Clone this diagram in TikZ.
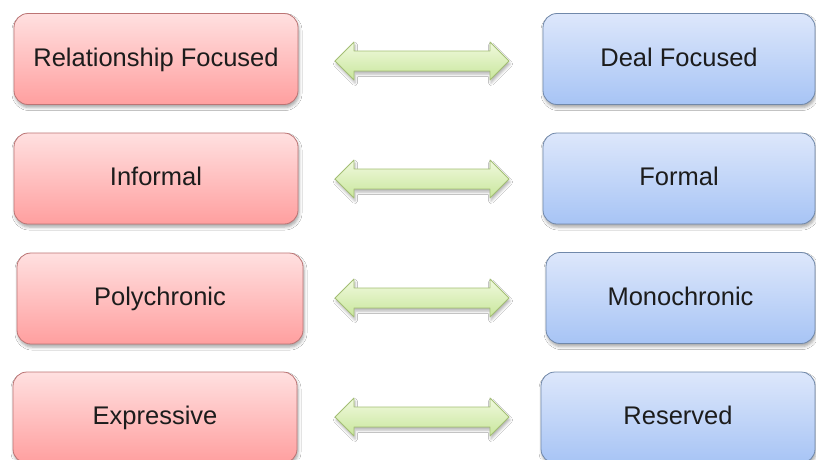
\documentclass[tikz,border=0pt]{standalone}
\usepackage{fontspec}
\setmainfont{Liberation Sans}
\usetikzlibrary{calc,shadows.blur}

\definecolor{redtop}{HTML}{FFE0E0}
\definecolor{redbot}{HTML}{FF9F9F}
\definecolor{redline}{HTML}{BC7474}
\definecolor{bluetop}{HTML}{DDE7FB}
\definecolor{bluebot}{HTML}{A7C4F5}
\definecolor{blueline}{HTML}{7088AA}
\definecolor{greentop}{HTML}{F0F9DE}
\definecolor{greenbot}{HTML}{C9E69C}
\definecolor{greenline}{HTML}{A3BE74}
\definecolor{inktext}{HTML}{1C1C1C}

\begin{document}
\begin{tikzpicture}[x=1pt,y=-1pt,
  card/.style={draw, line width=0.8pt, rounded corners=14pt, inner sep=0pt,
    minimum height=91pt, text=inktext,
    font=\fontsize{25.5}{30}\selectfont, text height=18.4pt, text depth=4pt,
    blur shadow={shadow xshift=1pt, shadow yshift=-3pt, shadow blur radius=3pt,
      shadow opacity=35}},
  redcard/.style={card, draw=redline, top color=redtop, bottom color=redbot},
  bluecard/.style={card, draw=blueline, top color=bluetop, bottom color=bluebot},
  linkarrow/.style={draw=greenline, line width=0.8pt, line join=round,
    top color=greentop, bottom color=greenbot,
    blur shadow={shadow xshift=1pt, shadow yshift=-3pt, shadow blur radius=2.5pt,
      shadow opacity=30}}]

\useasboundingbox (0,0) rectangle (816,459);
\fill[white] (0,0) rectangle (816,459);

% left column
\node[redcard, minimum width=284pt] (r1) at (156,59)    {Relationship Focused};
\node[redcard, minimum width=284pt] (r2) at (156,178.5) {Informal};
\node[redcard, minimum width=286pt] (r3) at (160,298.5) {Polychronic};
\node[redcard, minimum width=284pt] (r4) at (155,417.5) {Expressive};

% right column
\node[bluecard, minimum width=272pt] (b1) at (679,59)    {Deal Focused};
\node[bluecard, minimum width=272pt] (b2) at (679,178.5) {Formal};
\node[bluecard, minimum width=269pt] (b3) at (680.5,298) {Monochronic};
\node[bluecard, minimum width=274pt] (b4) at (678,417.5) {Reserved};

% double-headed block arrows between the pairs
\foreach \i/\y in {1/61, 2/179, 3/298, 4/417}{
  \coordinate (a\i l) at (335,\y);
  \coordinate (a\i r) at (509,\y);
  \path[linkarrow] (a\i l)
    -- ($(a\i l)+(19,-19)$) -- ($(a\i l)+(19,-10)$)
    -- ($(a\i r)+(-19,-10)$) -- ($(a\i r)+(-19,-19)$)
    -- (a\i r)
    -- ($(a\i r)+(-19,19)$) -- ($(a\i r)+(-19,10)$)
    -- ($(a\i l)+(19,10)$) -- ($(a\i l)+(19,19)$)
    -- cycle;
}
\end{tikzpicture}
\end{document}
